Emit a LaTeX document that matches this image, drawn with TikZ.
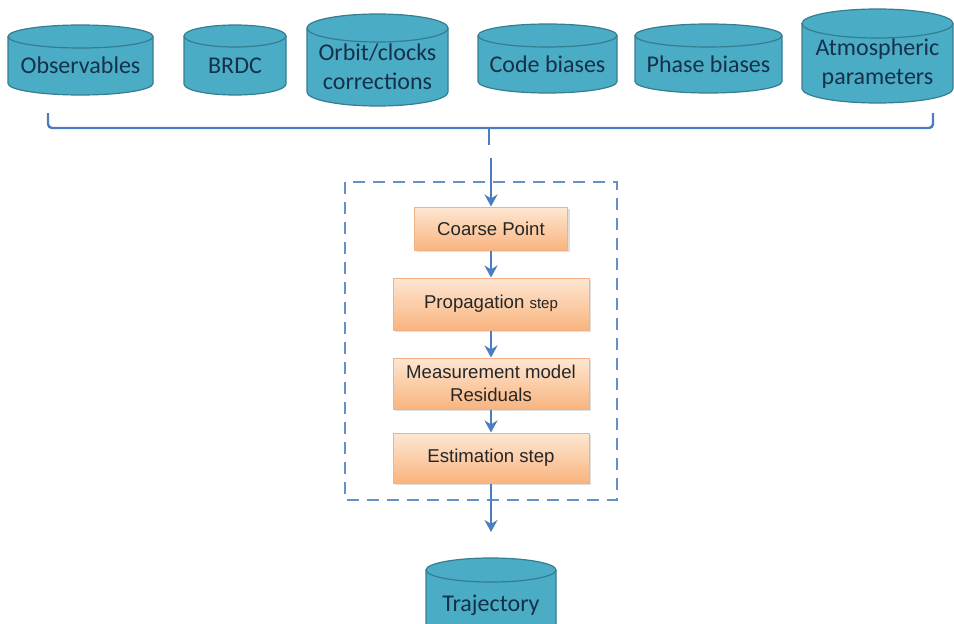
\documentclass[tikz,border=0pt]{standalone}
\usepackage{fontspec}
\setmainfont{Liberation Sans}
\newfontfamily\calibri{Carlito}
\usetikzlibrary{arrows.meta,shadows}
\definecolor{drumblue}{HTML}{4BACC6}
\definecolor{drumedge}{HTML}{357D91}
\definecolor{drumink}{HTML}{15314A}
\definecolor{flowblue}{HTML}{4A7EC0}
\definecolor{peachtop}{HTML}{FDE7D3}
\definecolor{peachbot}{HTML}{F9B47E}
\definecolor{peachedge}{HTML}{F4B183}
\tikzset{
	drumfill/.style={fill=drumblue},
	drumline/.style={draw=drumedge, line width=0.6pt},
	drumtext/.style={font=\calibri\fontsize{12}{14.6}\selectfont, text=drumink, align=center},
	stepbox/.style={draw=peachedge, line width=0.5pt, top color=peachtop, bottom color=peachbot,
		drop shadow={opacity=0.25, shadow xshift=1pt, shadow yshift=-1pt},
		font=\fontsize{9.3}{11.5}\selectfont, text=black!85, align=center, inner sep=1pt},
	flow/.style={draw=flowblue, line width=1.2pt, -{Stealth[length=6pt,width=6.5pt]}},
	brace/.style={draw=flowblue, line width=1.2pt, rounded corners=2pt},
	frame/.style={draw=flowblue!85, line width=1.1pt, dash pattern=on 6pt off 4pt}
}
% data store: (name)(cx,top)(rx:ry:height){text}
\def\drum(#1)(#2,#3)(#4:#5:#6)#7{%
	\fill[drumfill] (#2-#4,#3) -- (#2-#4,#3-#6) arc (180:360:#4 and #5) -- (#2+#4,#3) arc (0:180:#4 and #5) -- cycle;
	\draw[drumline] (#2-#4,#3) -- (#2-#4,#3-#6) arc (180:360:#4 and #5) -- (#2+#4,#3);
	\draw[drumline] (#2,#3) ellipse (#4 and #5);
	\coordinate (#1top) at (#2,#3+#5);
	\node[drumtext] (#1) at (#2,#3-#6/2-#5/2) {#7};}

\begin{document}
\begin{tikzpicture}[x=0.5pt, y=0.5pt]
		%%%%% START %%%%%
		\clip (0,0) rectangle (954,623);
		
		\drum(obs)(80.5,586.5)(72.5:11.5:47){Observables}
		\drum(brdc)(235,587)(51:11:48){BRDC}
		\drum(orbit)(377.5,595)(70.5:14:64){Orbit/clocks\\corrections}
		\drum(code)(547.5,587.5)(69.5:11.5:46){Code biases}
		\drum(phase)(708.5,587.5)(73.5:11.5:46){Phase biases}
		\drum(atmo)(877.5,599.5)(75.5:14.5:65){Atmospheric\\parameters}
		
		\draw[brace] (48,510) -- (48,495) -- (933,495) -- (933,510);
		\coordinate (tick) at (489,495);
		\draw[brace] (tick) -- ++(0,-17);
		\coordinate (feed) at (491,465);
		
		\draw[frame] (345,441) rectangle (617,123);
		
		\node[stepbox, minimum width=76.5pt, minimum height=21.5pt] (coarse) at (491,394.5) {Coarse Point};
		\node[stepbox, minimum width=98pt, minimum height=26pt] (prop) at (491,319) {Propagation {\fontsize{7.5}{9}\selectfont step}};
		\node[stepbox, minimum width=98pt, minimum height=25.5pt] (meas) at (491,239.5) {Measurement model\\Residuals};
		\node[stepbox, minimum width=98pt, minimum height=25pt] (est) at (491,165) {Estimation step};
		
		\drum(traj)(491,53)(65:12:58){Trajectory}
		
		\draw[flow] (feed) -- (coarse);
		\draw[flow] (coarse) -- (prop);
		\draw[flow] (prop) -- (meas);
		\draw[flow] (meas) -- (est);
		\draw[flow, shorten >=13pt] (est) -- (trajtop);
		
		%%%%% END %%%%%
\end{tikzpicture}
\end{document}
